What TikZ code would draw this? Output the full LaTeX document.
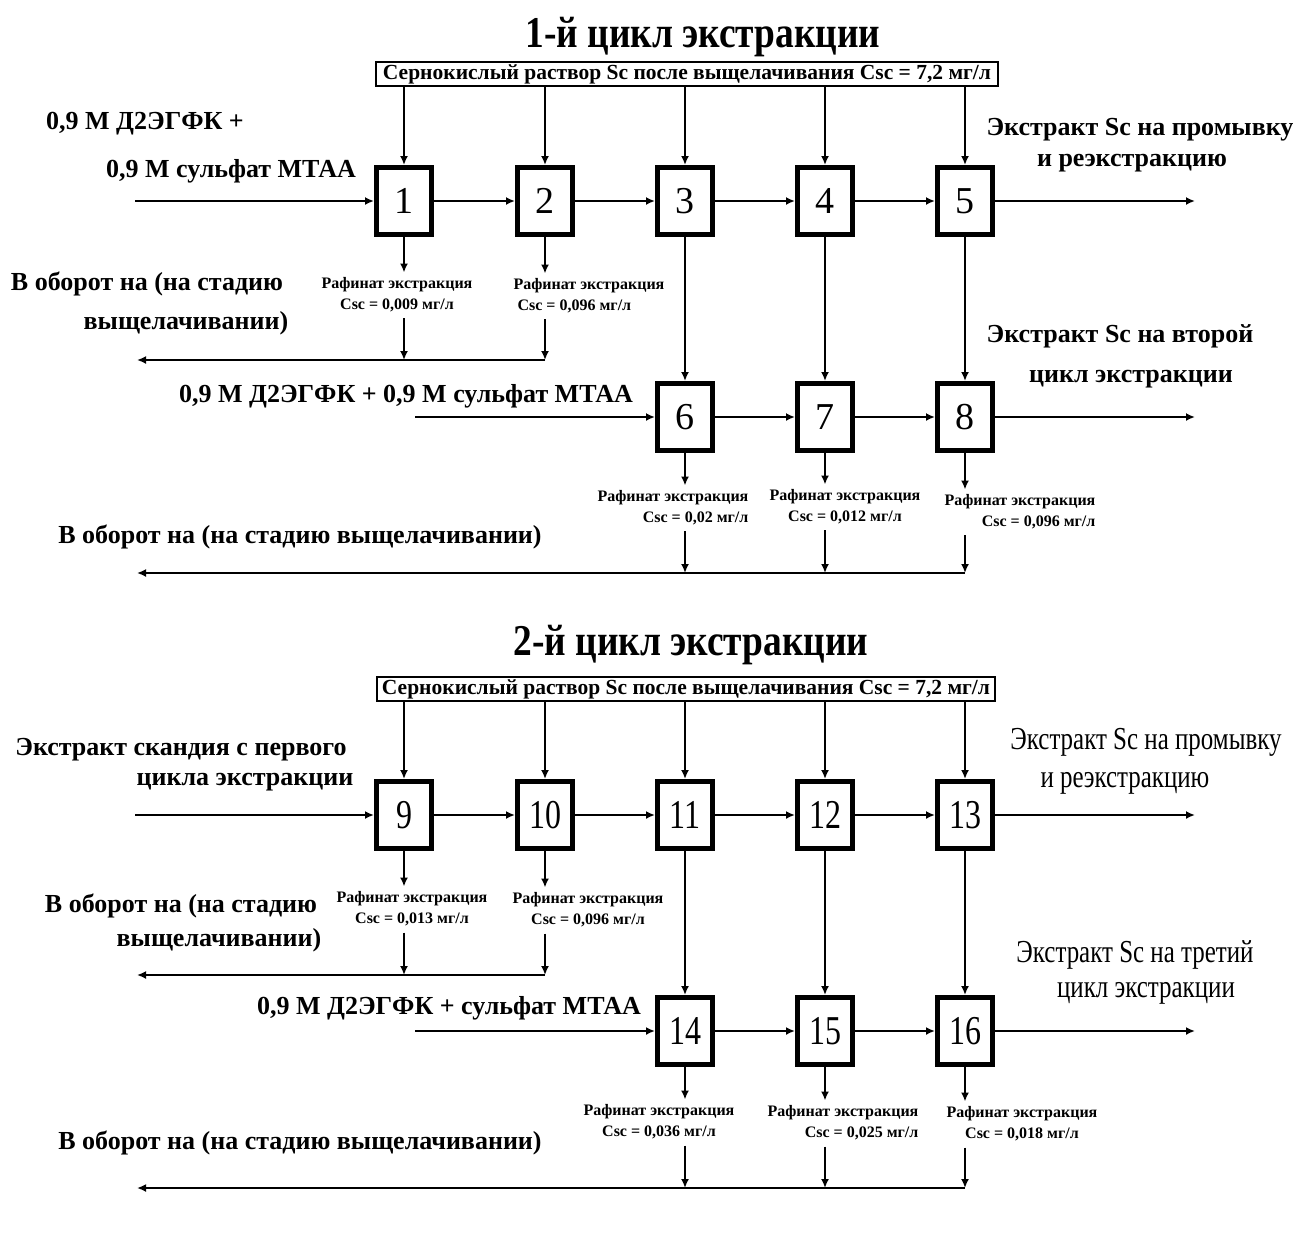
\documentclass[tikz,border=0pt]{standalone}
\usepackage{fontspec}
\setmainfont{Liberation Serif}
\newfontfamily\tfont{Liberation Serif Bold}[FakeStretch=0.85]
\newfontfamily\cfont{Liberation Serif}[FakeStretch=0.78]
\usetikzlibrary{arrows.meta}
\tikzset{
  ttl/.style={font=\tfont\fontsize{44}{48}\selectfont, inner sep=0},
  lbl/.style={font=\bfseries\fontsize{26}{30}\selectfont, inner sep=0},
  clbl/.style={font=\cfont\fontsize{32}{36}\selectfont, inner sep=0},
  raf/.style={font=\bfseries\fontsize{16}{21}\selectfont, inner sep=0},
  hdr/.style={draw, line width=1.5pt, font=\bfseries\fontsize{21.5}{23}\selectfont, minimum height=24pt, inner sep=0},
  stage/.style={draw, line width=5pt, minimum width=55pt, minimum height=67pt, inner sep=0, font=\fontsize{38}{38}\selectfont},
  cstage/.style={stage, font=\cfont\fontsize{41}{41}\selectfont},
  flow/.style={line width=1.8pt, -{Latex[length=9pt,width=8pt]}},
}
\begin{document}
\begin{tikzpicture}[x=1pt,y=-1pt]
\useasboundingbox[fill=white] (0,0) rectangle (1296,1245);
% ================= cycle 1 =================
\node[ttl] (t1) at (703,37) {1-й цикл экстракции};
\node[hdr, minimum width=622pt] (h1) at (687,74) {Сернокислый раствор Sc после выщелачивания Csc = 7,2 мг/л};
\node[stage] (b1) at (404,201) {1};
\node[stage] (b2) at (545,201) {2};
\node[stage] (b3) at (685,201) {3};
\node[stage] (b4) at (825,201) {4};
\node[stage] (b5) at (965,201) {5};
\node[stage] (b6) at (685,417) {6};
\node[stage] (b7) at (825,417) {7};
\node[stage] (b8) at (965,417) {8};
\node[lbl] (l1a) at (145,124) {0,9 М Д2ЭГФК +};
\node[lbl] (l1b) at (231,171) {0,9 М сульфат МТАА};
\coordinate (in1) at (135,201);
\node[lbl] (o1a) at (1140,130) {Экстракт Sc на промывку};
\node[lbl] (o1b) at (1132,163) {и реэкстракцию};
\coordinate (out1) at (1195,201);
\node[raf, align=center] (ra1) at (397,295) {Рафинат экстракция\\Csc = 0,009 мг/л};
\node[raf, align=left] (ra2) at (589,296) {Рафинат экстракция\\\ Csc = 0,096 мг/л};
\node[lbl] (r1a) at (147,284) {В оборот на (на стадию};
\node[lbl] (r1b) at (186,323) {выщелачивании)};
\coordinate (ret1) at (137,360);
\node[lbl] (l2) at (406,396) {0,9 М Д2ЭГФК + 0,9 М сульфат МТАА};
\coordinate (in2) at (415,417);
\node[lbl] (o2a) at (1120,336) {Экстракт Sc на второй};
\node[lbl] (o2b) at (1131,379) {цикл экстракции};
\coordinate (out2) at (1195,417);
\node[raf, align=right] (ra6) at (673,508) {Рафинат экстракция\\Csc = 0,02 мг/л};
\node[raf, align=center] (ra7) at (845,507) {Рафинат экстракция\\Csc = 0,012 мг/л};
\node[raf, align=right] (ra8) at (1020,512) {Рафинат экстракция\\Csc = 0,096 мг/л};
\node[lbl] (r2) at (300,537) {В оборот на (на стадию выщелачивании)};
\coordinate (ret2) at (137,573);
% connectors cycle 1
\foreach \b in {b1,b2,b3,b4,b5} \draw[flow] (h1.south -| \b) -- (\b.north);
\draw[flow] (in1) -- (b1);
\draw[flow] (b1) -- (b2);
\draw[flow] (b2) -- (b3);
\draw[flow] (b3) -- (b4);
\draw[flow] (b4) -- (b5);
\draw[flow] (b5) -- (out1);
\draw[flow] (b3) -- (b6);
\draw[flow] (b4) -- (b7);
\draw[flow] (b5) -- (b8);
\draw[flow] (in2) -- (b6);
\draw[flow] (b6) -- (b7);
\draw[flow] (b7) -- (b8);
\draw[flow] (b8) -- (out2);
\foreach \b/\r/\c in {b1/ra1/ret1,b2/ra2/ret1,b6/ra6/ret2,b7/ra7/ret2,b8/ra8/ret2}{
  \draw[flow] (\b.south) -- ([yshift=5pt]\b.south |- \r.north);
  \draw[flow] ([yshift=-6pt]\b.south |- \r.south) -- (\b.south |- \c);
}
\draw[flow] (b2.south |- ret1) -- (ret1);
\draw[flow] (b8.south |- ret2) -- (ret2);
% ================= cycle 2 =================
\node[ttl] (t2) at (691,645) {2-й цикл экстракции};
\node[hdr, minimum width=618pt] (h2) at (686,689) {Сернокислый раствор Sc после выщелачивания Csc = 7,2 мг/л};
\node[cstage] (b9) at (404,815) {9};
\node[cstage] (b10) at (545,815) {10};
\node[cstage] (b11) at (685,815) {11};
\node[cstage] (b12) at (825,815) {12};
\node[cstage] (b13) at (965,815) {13};
\node[cstage] (b14) at (685,1031) {14};
\node[cstage] (b15) at (825,1031) {15};
\node[cstage] (b16) at (965,1031) {16};
\node[lbl] (l3a) at (181,750) {Экстракт скандия с первого};
\node[lbl] (l3b) at (245,782) {цикла экстракции};
\coordinate (in3) at (135,815);
\node[clbl] (o3a) at (1146,742) {Экстракт Sc на промывку};
\node[clbl] (o3b) at (1125,783) {и реэкстракцию};
\coordinate (out3) at (1195,815);
\node[raf, align=center] (ra9) at (412,909) {Рафинат экстракция\\Csc = 0,013 мг/л};
\node[raf, align=center] (ra10) at (588,910) {Рафинат экстракция\\Csc = 0,096 мг/л};
\node[lbl] (r3a) at (181,906) {В оборот на (на стадию};
\node[lbl] (r3b) at (219,940) {выщелачивании)};
\coordinate (ret3) at (137,975);
\node[lbl] (l4) at (449,1008) {0,9 М Д2ЭГФК + сульфат МТАА};
\coordinate (in4) at (415,1031);
\node[clbl] (o4a) at (1135,955) {Экстракт Sc на третий};
\node[clbl] (o4b) at (1146,993) {цикл экстракции};
\coordinate (out4) at (1195,1031);
\node[raf, align=center] (ra14) at (659,1122) {Рафинат экстракция\\Csc = 0,036 мг/л};
\node[raf, align=right] (ra15) at (843,1123) {Рафинат экстракция\\Csc = 0,025 мг/л};
\node[raf, align=center] (ra16) at (1022,1124) {Рафинат экстракция\\Csc = 0,018 мг/л};
\node[lbl] (r4) at (300,1143) {В оборот на (на стадию выщелачивании)};
\coordinate (ret4) at (137,1188);
% connectors cycle 2
\foreach \b in {b9,b10,b11,b12,b13} \draw[flow] (h2.south -| \b) -- (\b.north);
\draw[flow] (in3) -- (b9);
\draw[flow] (b9) -- (b10);
\draw[flow] (b10) -- (b11);
\draw[flow] (b11) -- (b12);
\draw[flow] (b12) -- (b13);
\draw[flow] (b13) -- (out3);
\draw[flow] (b11) -- (b14);
\draw[flow] (b12) -- (b15);
\draw[flow] (b13) -- (b16);
\draw[flow] (in4) -- (b14);
\draw[flow] (b14) -- (b15);
\draw[flow] (b15) -- (b16);
\draw[flow] (b16) -- (out4);
\foreach \b/\r/\c in {b9/ra9/ret3,b10/ra10/ret3,b14/ra14/ret4,b15/ra15/ret4,b16/ra16/ret4}{
  \draw[flow] (\b.south) -- ([yshift=5pt]\b.south |- \r.north);
  \draw[flow] ([yshift=-6pt]\b.south |- \r.south) -- (\b.south |- \c);
}
\draw[flow] (b10.south |- ret3) -- (ret3);
\draw[flow] (b16.south |- ret4) -- (ret4);
\end{tikzpicture}
\end{document}
